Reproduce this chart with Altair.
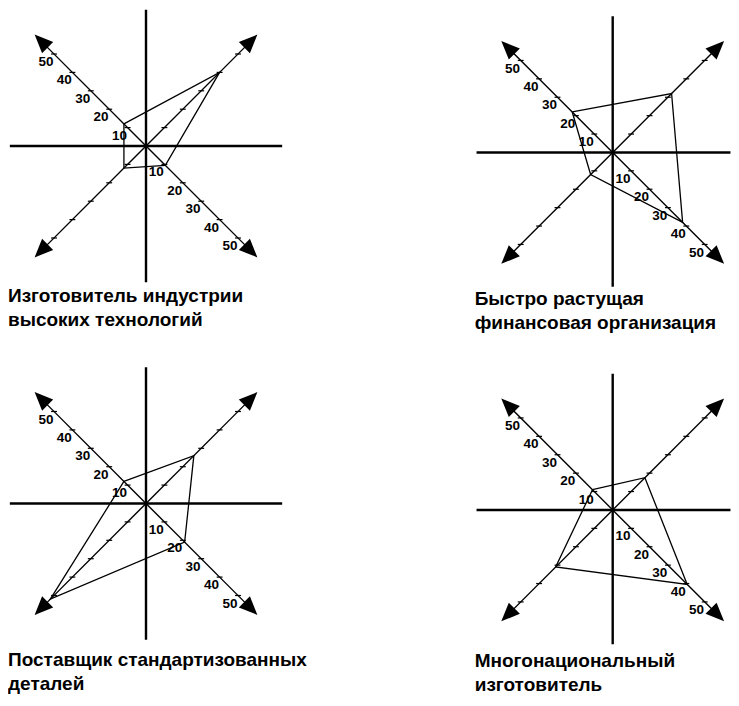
import math
import altair as alt
import pandas as pd

# ---- data ----
panel_titles = [
    ["Изготовитель индустрии", "высоких технологий"],
    ["Быстро растущая", "финансовая организация"],
    ["Поставщик стандартизованных", "деталей"],
    ["Многонациональный", "изготовитель"],
]
arm_names = ["UL", "UR", "LR", "LL"]          # diagonal arms, clockwise from upper-left
arm_dx = [-1, 1, 1, -1]
arm_dy = [1, 1, -1, -1]
scale_values = [10, 20, 30, 40, 50]
labelled_arms = ["UL", "LR"]
profile_hightech = [12, 40, 10.5, 12]
profile_finance = [22, 32, 38, 12]
profile_standard = [12, 26, 21, 52]
profile_multinational = [11, 17.5, 40.5, 31]
profiles = [profile_hightech, profile_finance, profile_standard, profile_multinational]

# ---- geometry / style constants ----
K = 1.84            # px per unit
CROSS = 74          # extent of horizontal / vertical lines
ARROW = 57          # position of arrow heads
TICK = 1.6
LAB = 4.4
FONT = "Liberation Sans"
ARROW_PATH = "M0,-1L0.85,1L-0.85,1Z"


def panel(profile, title, xdom, ydom, title_offset):
    w = (xdom[1] - xdom[0]) * K
    h = (ydom[1] - ydom[0]) * K
    xs = alt.Scale(domain=xdom, nice=False, zero=False)
    ys = alt.Scale(domain=ydom, nice=False, zero=False)

    cross = pd.DataFrame({"x": [-CROSS, 0], "x2": [CROSS, 0], "y": [0, -CROSS], "y2": [0, CROSS]})
    arms = pd.DataFrame({
        "x": [0] * 4, "y": [0] * 4,
        "x2": [d * ARROW for d in arm_dx], "y2": [d * ARROW for d in arm_dy],
    })
    heads = pd.DataFrame({
        "x": [d * ARROW for d in arm_dx], "y": [d * ARROW for d in arm_dy],
        "angle": [math.degrees(math.atan2(a, b)) % 360 for a, b in zip(arm_dx, arm_dy)],
    })
    ticks = pd.DataFrame([
        {"x": dx * v - TICK, "x2": dx * v + TICK, "y": dy * v, "y2": dy * v}
        for dx, dy in zip(arm_dx, arm_dy) for v in scale_values
    ])
    labels = pd.DataFrame([
        {"x": dx * v - LAB, "y": dy * v - LAB, "t": str(v)}
        for name, dx, dy in zip(arm_names, arm_dx, arm_dy) if name in labelled_arms
        for v in scale_values
    ])
    poly = pd.DataFrame([
        {"x": arm_dx[i % 4] * profile[i % 4], "y": arm_dy[i % 4] * profile[i % 4], "o": i}
        for i in range(5)
    ])

    X = alt.X("x:Q", scale=xs, axis=None)
    Y = alt.Y("y:Q", scale=ys, axis=None)

    l_cross = alt.Chart(cross).mark_rule(color="black", strokeWidth=2.4, clip=True).encode(
        x=X, y=Y, x2="x2:Q", y2="y2:Q")
    l_arms = alt.Chart(arms).mark_rule(color="black", strokeWidth=1.4).encode(
        x=X, y=Y, x2="x2:Q", y2="y2:Q")
    l_ticks = alt.Chart(ticks).mark_rule(color="black", strokeWidth=1.2).encode(
        x=X, y=Y, x2="x2:Q", y2="y2:Q")
    l_heads = alt.Chart(heads).mark_point(shape=ARROW_PATH, filled=True, color="black",
                                          size=340, opacity=1).encode(
        x=X, y=Y, angle=alt.Angle("angle:Q", scale=None))
    l_labels = alt.Chart(labels).mark_text(font=FONT, fontSize=13.5, fontWeight="bold",
                                           color="black", align="center", baseline="middle").encode(
        x=X, y=Y, text="t:N")
    l_poly = alt.Chart(poly).mark_line(color="black", strokeWidth=1.3).encode(
        x=X, y=Y, order="o:Q")

    return alt.layer(l_cross, l_arms, l_ticks, l_heads, l_labels, l_poly).properties(
        width=w, height=h,
        title=alt.TitleParams(text=title, orient="bottom", anchor="start", font=FONT,
                              fontSize=19, fontWeight="bold", color="black",
                              lineHeight=24, offset=title_offset, baseline="top"),
    )


left_x, left_y = [-75, 75], [-75, 75]
right_x, right_y = [-75, 64], [-73, 78.5]

p1 = panel(profiles[0], panel_titles[0], left_x, left_y, 3)
p2 = panel(profiles[1], panel_titles[1], right_x, right_y, 3)
p3 = panel(profiles[2], panel_titles[2], left_x, left_y, 9)
p4 = panel(profiles[3], panel_titles[3], right_x, right_y, 8)

chart = alt.concat(
    p1, p2, p3, p4, columns=2, bounds="flush",
    spacing=alt.RowColnumber(row=78.5, column=190.7),
).properties(padding=0, background="white").configure_view(stroke=None)

chart.save("out.html", embed_options={"renderer": "svg", "actions": False})
